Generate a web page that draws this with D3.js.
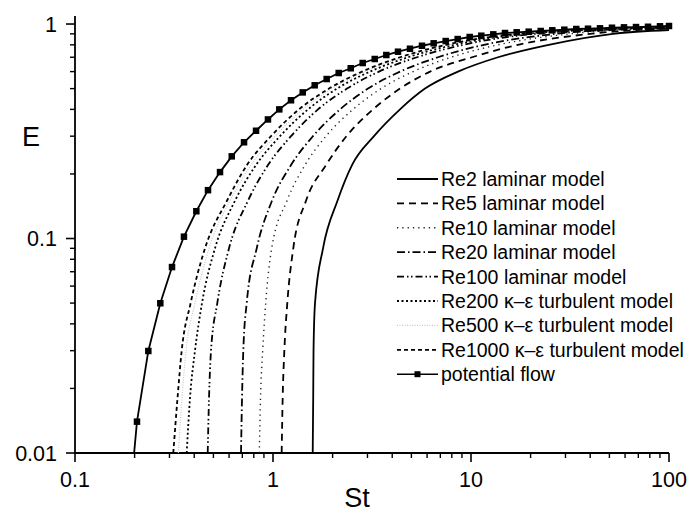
<!DOCTYPE html>
<html>
<head>
<meta charset="utf-8">
<script src="https://cdn.jsdelivr.net/npm/d3@7"></script>
<style>
  body { margin: 0; background: white; }
  text { font-family: "Liberation Sans", Arial, sans-serif; fill: black; }
</style>
</head>
<body>
<svg id="chart" width="690" height="513"></svg>
<script>
const WIDTH = 690
const HEIGHT = 513

// E levels at which the model curves were read
const E_LEVELS = [0.01, 0.018, 0.03, 0.05, 0.09, 0.15, 0.22, 0.3, 0.4, 0.5, 0.6, 0.7, 0.8, 0.9]

// St value of each model curve at the E levels above
const ST_RE2 = [1.587, 1.596, 1.602, 1.630, 1.789, 2.117, 2.506, 3.236, 4.38, 5.857, 8.597, 13.69, 24.69, 52.16]
const ST_RE5 = [1.106, 1.119, 1.141, 1.181, 1.266, 1.468, 1.852, 2.350, 3.199, 4.38, 6.21, 10.12, 17.28, 39.9]
const ST_RE10 = [0.8528, 0.8648, 0.8872, 0.9186, 0.9849, 1.177, 1.45, 1.852, 2.535, 3.512, 5.094, 7.925, 13.69, 31.62]
const ST_RE20 = [0.6894, 0.6974, 0.7079, 0.7365, 0.8274, 0.9883, 1.233, 1.592, 2.180, 3.018, 4.38, 6.811, 11.63, 26.88]
const ST_RE100 = [0.468, 0.4752, 0.4863, 0.5232, 0.5995, 0.7475, 0.9434, 1.233, 1.688, 2.364, 3.43, 5.337, 9.113, 21.05]
const ST_RE200 = [0.3665, 0.3808, 0.4037, 0.438, 0.5094, 0.6428, 0.8207, 1.085, 1.503, 2.105, 3.09, 4.806, 8.207, 18.95]
const ST_RE500 = [0.3324, 0.347, 0.3635, 0.4037, 0.4752, 0.6065, 0.7744, 1.0235, 1.417, 1.986, 2.914, 4.536, 7.743, 17.88]
const ST_RE1000 = [0.3136, 0.3294, 0.3458, 0.3838, 0.4535, 0.5856, 0.7389, 0.977, 1.353, 1.918, 2.816, 4.38, 7.476, 17.28]

// E of each model curve at St = 100 (right end)
const E_AT_100 = [0.938, 0.955, 0.960, 0.963, 0.967, 0.970, 0.972, 0.973]

const SERIES_NAMES = [
  "Re2 laminar model",
  "Re5 laminar model",
  "Re10 laminar model",
  "Re20 laminar model",
  "Re100 laminar model",
  "Re200 \u03ba\u2013\u03b5 turbulent model",
  "Re500 \u03ba\u2013\u03b5 turbulent model",
  "Re1000 \u03ba\u2013\u03b5 turbulent model"
]

// potential flow (the curve with square markers)
const POT_ST = [0.1985, 0.2056, 0.2346, 0.2697, 0.309, 0.355, 0.410, 0.4696, 0.540, 0.619, 0.714, 0.821, 0.943,
  1.076, 1.233, 1.413, 1.624, 1.867, 2.147, 2.469, 2.838, 3.264, 3.735, 4.279, 4.918, 5.656, 6.479, 7.451, 8.566,
  9.85, 11.27, 12.96, 14.85, 17.01, 19.56, 22.49, 25.74, 29.6, 34.02, 38.99, 44.82, 51.53, 59.25, 68.13, 78.34, 90.06, 100]
const POT_E = [0.0098, 0.0140, 0.0299, 0.0499, 0.0736, 0.102, 0.134, 0.168, 0.204, 0.2416, 0.281, 0.318, 0.359,
  0.400, 0.441, 0.480, 0.518, 0.554, 0.591, 0.622, 0.658, 0.687, 0.717, 0.743, 0.767, 0.792, 0.813, 0.833, 0.851,
  0.870, 0.882, 0.895, 0.908, 0.915, 0.921, 0.928, 0.935, 0.941, 0.948, 0.951, 0.955, 0.961, 0.965, 0.968, 0.971, 0.976, 0.979]

const X_TICKS = [0.1, 1, 10, 100]
const Y_TICKS = [0.01, 0.1, 1]

//line styles, same order as SERIES_NAMES
const DASHES = ["", "7,5", "1.3,4", "8,3,1.5,3", "7,3,1.5,2.5,1.5,3", "2,2.5", "1,1.5", "4,3"]
const COLORS = ["#000", "#000", "#222", "#000", "#000", "#000", "#c8c8c8", "#000"]
const WIDTHS = [1.8, 1.8, 1.4, 1.8, 1.8, 1.8, 1.2, 1.8]

const M = {left: 75, right: 669, top: 16, bottom: 453}

var svg = d3.select("#chart")

var x = d3.scaleLog().domain([0.1, 100]).range([M.left, M.right])
var y = d3.scaleLog().domain([0.01, 1.09]).range([M.bottom, M.top])

svg.append("clipPath").attr("id", "plotClip")
  .append("rect")
  .attr("x", M.left).attr("y", M.top - 6)
  .attr("width", M.right - M.left + 4).attr("height", M.bottom - M.top + 6)

//minor ticks for log axes
function minorTicks(lo, hi){
  var out = []
  for(var d = lo; d < hi; d *= 10){
    for(var k = 2; k <= 9; k++) out.push(d * k)
  }
  return out
}

// x axis
var xAxis = svg.append("g").attr("transform", "translate(0," + M.bottom + ")")
xAxis.append("line").attr("x1", M.left).attr("x2", M.right).attr("stroke", "#000").attr("stroke-width", 1.8)
xAxis.selectAll("line.minor").data(minorTicks(0.1, 100)).enter().append("line")
  .attr("class", "minor")
  .attr("x1", d => x(d)).attr("x2", d => x(d)).attr("y1", 0).attr("y2", 5)
  .attr("stroke", "#000").attr("stroke-width", 1.4)
xAxis.selectAll("line.major").data(X_TICKS).enter().append("line")
  .attr("class", "major")
  .attr("x1", d => x(d)).attr("x2", d => x(d)).attr("y1", 0).attr("y2", 9)
  .attr("stroke", "#000").attr("stroke-width", 1.6)
xAxis.selectAll("text").data(X_TICKS).enter().append("text")
  .attr("x", d => x(d)).attr("y", 34)
  .attr("text-anchor", "middle")
  .style("font-size", "21.5px")
  .text(d => d3.format("~g")(d))

// y axis
var yAxis = svg.append("g").attr("transform", "translate(" + M.left + ",0)")
yAxis.append("line").attr("y1", M.top).attr("y2", M.bottom).attr("stroke", "#000").attr("stroke-width", 1.8)
yAxis.selectAll("line.minor").data(minorTicks(0.01, 1)).enter().append("line")
  .attr("class", "minor")
  .attr("y1", d => y(d)).attr("y2", d => y(d)).attr("x1", 0).attr("x2", -5)
  .attr("stroke", "#000").attr("stroke-width", 1.4)
yAxis.selectAll("line.major").data(Y_TICKS).enter().append("line")
  .attr("class", "major")
  .attr("y1", d => y(d)).attr("y2", d => y(d)).attr("x1", 0).attr("x2", -9)
  .attr("stroke", "#000").attr("stroke-width", 1.6)
yAxis.selectAll("text").data(Y_TICKS).enter().append("text")
  .attr("x", -18).attr("y", d => y(d) + 7.5)
  .attr("text-anchor", "end")
  .style("font-size", "21.5px")
  .text(d => d3.format("~g")(d))

// axis titles
svg.append("text").attr("x", 357).attr("y", 507).attr("text-anchor", "middle")
  .style("font-size", "27px").text("St")
svg.append("text").attr("x", 31).attr("y", 146).attr("text-anchor", "middle")
  .style("font-size", "27px").text("E")

var line = d3.line().x(d => x(d[0])).y(d => y(d[1])).curve(d3.curveMonotoneX)

var stArrays = [ST_RE2, ST_RE5, ST_RE10, ST_RE20, ST_RE100, ST_RE200, ST_RE500, ST_RE1000]
var plot = svg.append("g").attr("clip-path", "url(#plotClip)")

stArrays.forEach((stValues, i) => {
  var pts = stValues.map((s, j) => [s, E_LEVELS[j]])
  pts.push([100, E_AT_100[i]])
  plot.append("path")
    .attr("d", line(pts))
    .attr("fill", "none")
    .attr("stroke", COLORS[i])
    .attr("stroke-width", WIDTHS[i])
    .attr("stroke-dasharray", DASHES[i])
})

//potential flow
var potPts = POT_ST.map((s, j) => [s, POT_E[j]])
plot.append("path")
  .attr("d", d3.line().x(d => x(d[0])).y(d => y(d[1]))(potPts))
  .attr("fill", "none").attr("stroke", "#000").attr("stroke-width", 1.8)
svg.append("g").selectAll("rect").data(potPts.filter(d => d[1] >= 0.01)).enter().append("rect")
  .attr("x", d => x(d[0]) - 3.25).attr("y", d => y(d[1]) - 3.25)
  .attr("width", 6.5).attr("height", 6.5).attr("fill", "#000")

// legend
var legend = svg.append("g")
var LEG_Y0 = 179
var LEG_DY = 24.4
var LEG_FONT = "19.5px"
SERIES_NAMES.forEach((name, i) => {
  var ly = LEG_Y0 + i * LEG_DY
  legend.append("line")
    .attr("x1", 397).attr("x2", 438).attr("y1", ly).attr("y2", ly)
    .attr("stroke", COLORS[i]).attr("stroke-width", WIDTHS[i])
    .attr("stroke-dasharray", DASHES[i])
  legend.append("text").attr("x", 441).attr("y", ly + 7)
    .style("font-size", LEG_FONT).text(name)
})
var potY = LEG_Y0 + 8 * LEG_DY
legend.append("line").attr("x1", 397).attr("x2", 438).attr("y1", potY).attr("y2", potY)
  .attr("stroke", "#000").attr("stroke-width", 1.6)
legend.append("rect").attr("x", 414.5).attr("y", potY - 3).attr("width", 6).attr("height", 6).attr("fill", "#000")
legend.append("text").attr("x", 441).attr("y", potY + 7)
  .style("font-size", LEG_FONT).text("potential flow")
</script>
</body>
</html>
